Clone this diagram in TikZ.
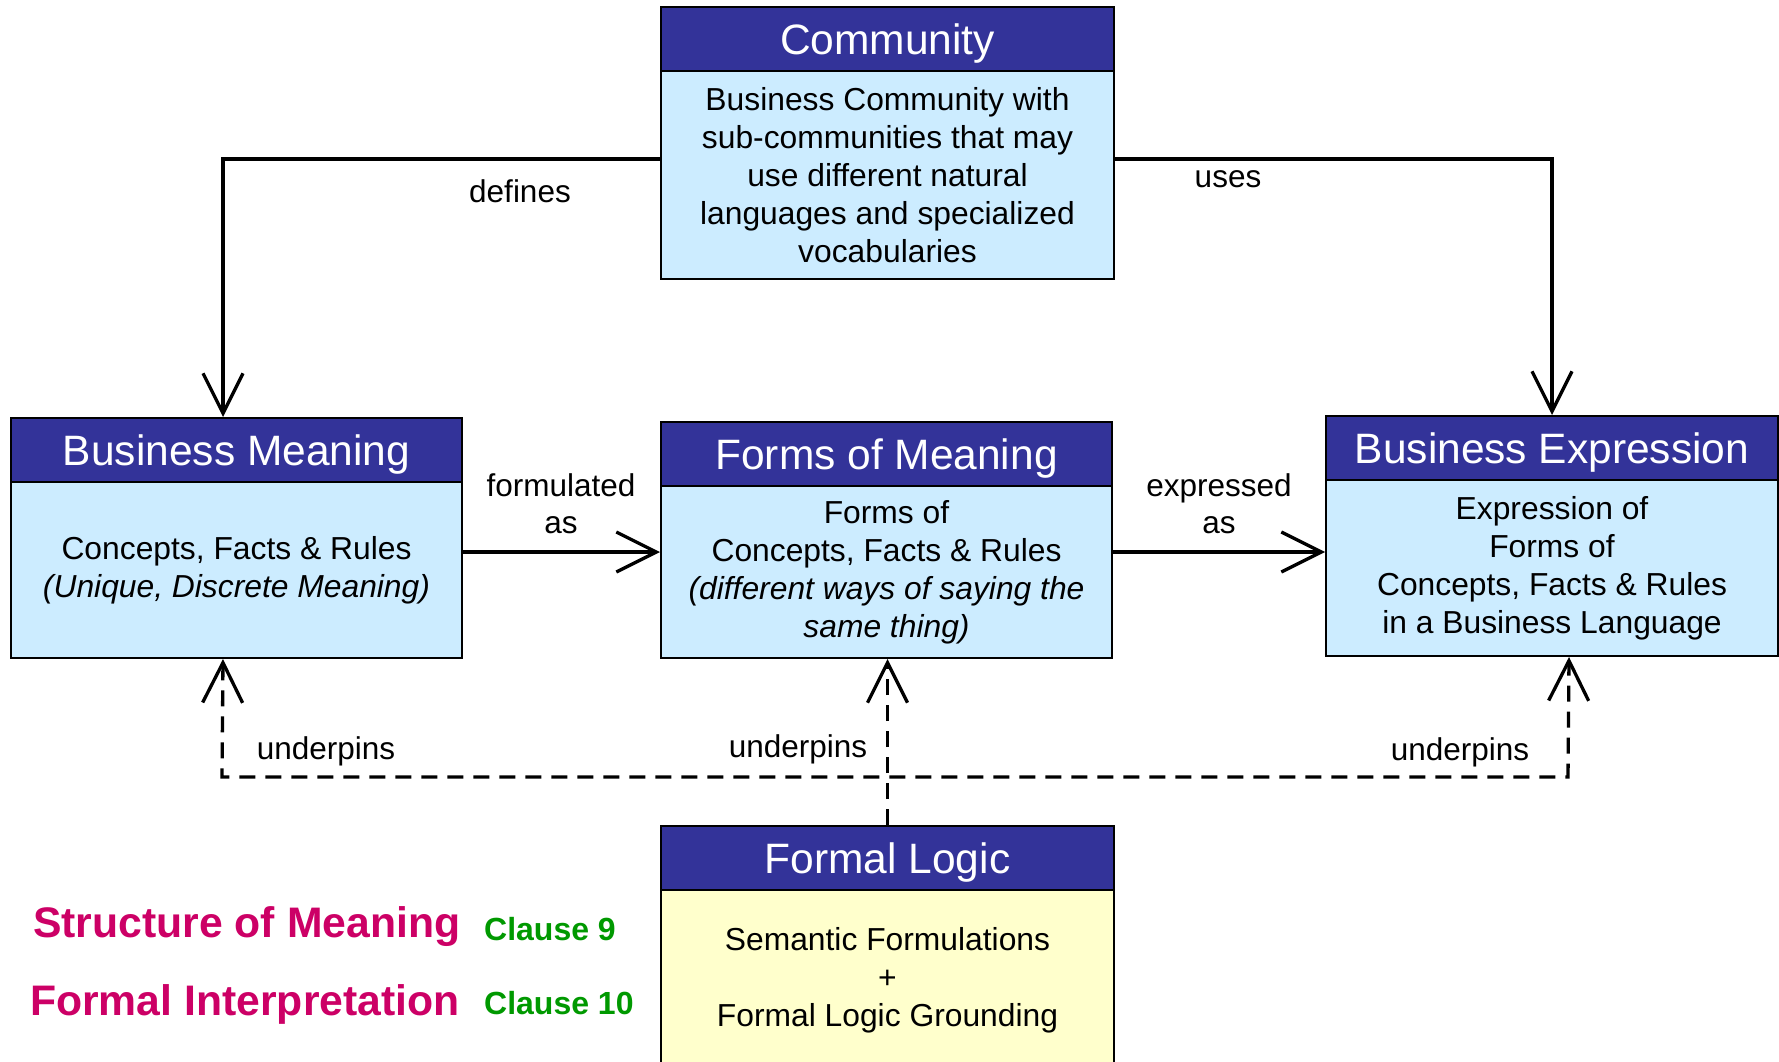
\documentclass[tikz,border=0pt]{standalone}
\usepackage{fontspec}
\setmainfont{Liberation Sans}
\usetikzlibrary{arrows.meta,calc}
\definecolor{hdrblue}{HTML}{333399}
\definecolor{lightblue}{HTML}{CCECFF}
\definecolor{lightyellow}{HTML}{FFFFCC}
\definecolor{magentared}{HTML}{CC0066}
\definecolor{clausegreen}{HTML}{009900}
\tikzset{
  hdr/.style={draw=black, line width=2pt, fill=hdrblue, text=white, anchor=north west,
    inner sep=0pt, text height=47.5pt, text depth=16.5pt, font=\fontsize{42.5}{48}\selectfont},
  bodybox/.style={draw=black, line width=2pt, fill=lightblue, anchor=north west,
    inner sep=0pt, align=center, font=\fontsize{31.8}{38}\selectfont},
  lbl/.style={inner sep=0pt, align=center, font=\fontsize{31.5}{36.5}\selectfont},
  bigtip/.tip={Straight Barb[length=40pt,width=40pt,line width=3.3pt]},
  conn/.style={line width=3.3pt, -bigtip},
  dconn/.style={line width=3.3pt, dash pattern=on 16pt off 10pt},
  legend/.style={inner sep=0pt, anchor=base west, font=\fontsize{42.7}{48}\bfseries\selectfont, text=magentared},
  clause/.style={inner sep=0pt, anchor=base west, font=\fontsize{32}{36}\bfseries\selectfont, text=clausegreen},
}
\begin{document}
\begin{tikzpicture}[x=1pt,y=-1pt]
\clip (0,0) rectangle (1779,1062);
\fill[white] (0,0) rectangle (1779,1062);

% Community
\node[hdr, minimum width=453pt] (commH) at (660,6) {Community};
\node[bodybox, minimum width=453pt, minimum height=208pt] (commB) at (660,70)
  {Business Community with\\sub-communities that may\\use different natural\\languages and specialized\\vocabularies};

% Business Meaning
\node[hdr, minimum width=451pt] (bmH) at (10,417) {Business Meaning};
\node[bodybox, minimum width=451pt, minimum height=176pt] (bmB) at (10,481)
  {Concepts, Facts \& Rules\\\textit{(Unique, Discrete Meaning)}};

% Forms of Meaning
\node[hdr, minimum width=451pt] (fmH) at (660,421) {Forms of Meaning};
\node[bodybox, minimum width=451pt, minimum height=172pt] (fmB) at (660,485)
  {Forms of\\Concepts, Facts \& Rules\\\textit{(different ways of saying the}\\\textit{same thing)}};

% Business Expression
\node[hdr, minimum width=452pt] (beH) at (1325,415) {Business Expression};
\node[bodybox, minimum width=452pt, minimum height=176pt] (beB) at (1325,479)
  {Expression of\\Forms of\\Concepts, Facts \& Rules\\in a Business Language};

% Formal Logic
\node[hdr, minimum width=453pt] (flH) at (660,825) {Formal Logic};
\node[bodybox, fill=lightyellow, minimum width=453pt, minimum height=181pt] (flB) at (660,889)
  {Semantic Formulations\\+\\Formal Logic Grounding};

% solid connectors
\draw[conn] ([yshift=16pt]commB.west) -| ([xshift=-13.5pt]bmH.north);
\draw[conn] ([yshift=16pt]commB.east) -| (beH.north);
\draw[conn] ([yshift=18pt]bmB.east) -- ([yshift=18pt]bmB.east -| fmB.west);
\draw[conn] ([yshift=20pt]fmB.east) -- ([yshift=20pt]fmB.east -| beB.west);

% dashed connectors
\coordinate (hl) at (222,777);
\coordinate (hr) at (1568,777);
\draw[dconn, bigtip-bigtip] ([xshift=-13.5pt]bmB.south) -- (hl) -- (hr) -- ([xshift=17pt]beB.south);
\draw[dconn, -bigtip] (flH.north) -- (flH.north |- fmB.south);

% labels
\node[lbl, anchor=base] (ldef) at (520,202) {defines};
\node[lbl, anchor=base] (luse) at (1228,187) {uses};
\node[lbl, anchor=base] (lform) at (561,533) {formulated\\as};
\node[lbl, anchor=base] (lexp) at (1219,533) {expressed\\as};
\node[lbl, anchor=base] (lu1) at (326,759) {underpins};
\node[lbl, anchor=base] (lu2) at (798,757) {underpins};
\node[lbl, anchor=base] (lu3) at (1460,760) {underpins};

% legend
\node[legend] (som) at (33,937) {Structure of Meaning};
\node[clause] (c9) at (484,940) {Clause 9};
\node[legend] (fint) at (30,1015) {Formal Interpretation};
\node[clause] (c10) at (484,1014) {Clause 10};
\end{tikzpicture}
\end{document}
